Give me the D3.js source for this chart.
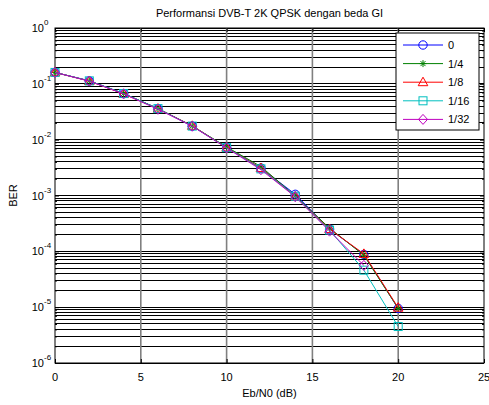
<!DOCTYPE html>
<html><head><meta charset="utf-8">
<script src="https://cdn.jsdelivr.net/npm/d3@7"></script>
<style>body{margin:0;background:#fff}svg{display:block}text{font-family:"Liberation Sans",Arial,sans-serif;fill:#000}</style>
</head><body><svg id="c" width="489" height="405"></svg>
<script>
const ebn0 = [0,2,4,6,8,10,12,14,16,18,20];
const seriesNames = ["0","1/4","1/8","1/16","1/32"];
const ber0   = [0.16,0.113,0.067,0.036,0.0175,0.0073,0.0031,0.00105,0.00025,8.8e-5,9.5e-6];
const ber1_4 = [0.16,0.113,0.067,0.036,0.0176,0.0074,0.0033,0.00098,0.00026,8.5e-5,9.5e-6];
const ber1_8 = [0.16,0.112,0.066,0.036,0.0177,0.0072,0.0031,0.00096,0.00025,9.0e-5,9.8e-6];
const ber1_16= [0.16,0.113,0.067,0.036,0.0175,0.0072,0.0030,0.00097,0.00024,4.6e-5,4.5e-6];
const ber1_32= [0.16,0.112,0.066,0.035,0.0174,0.0071,0.0029,0.00095,0.00023,5.6e-5,null];
const xTicks = [0,5,10,15,20,25];
const yExponents = [0,-1,-2,-3,-4,-5,-6];
const colors = ["#0000ff","#008000","#ff0000","#00bfbf","#bf00bf"];
const markers = ["circle","star","triangle","square","diamond"];
const allSeries = [ber0,ber1_4,ber1_8,ber1_16,ber1_32];

const svg = d3.select("#c");
const L=55,R=484,T=28,B=363;
const x = d3.scaleLinear().domain([0,25]).range([L,R]);
const y = d3.scaleLog().domain([1e-6,1]).range([B,T]);

// horizontal grid (major + minor)
const gridG = svg.append("g");
const hVals=[];
for(let e=-6;e<0;e++){for(let m=1;m<10;m++){hVals.push(m*Math.pow(10,e));}}
hVals.push(1);
gridG.selectAll("line.h").data(hVals).join("line")
  .attr("x1",L).attr("x2",R).attr("y1",d=>y(d)).attr("y2",d=>y(d))
  .attr("stroke","#000").attr("stroke-width",1).attr("shape-rendering","crispEdges");
gridG.selectAll("line.v").data(xTicks.filter(t=>t>0&&t<25)).join("line")
  .attr("x1",d=>x(d)).attr("x2",d=>x(d)).attr("y1",T).attr("y2",B)
  .attr("stroke","#808080").attr("stroke-width",1.6);

// axes with ticks inside
const axB = d3.axisBottom(x).tickValues(xTicks).tickSize(-4).tickFormat("");
const axT = d3.axisTop(x).tickValues(xTicks).tickSize(-4).tickFormat("");
svg.append("g").attr("transform",`translate(0,${B})`).call(axB);
svg.append("g").attr("transform",`translate(0,${T})`).call(axT);
const majY = yExponents.map(e=>Math.pow(10,e));
const minY = hVals.filter(v=>!majY.some(m=>Math.abs(m-v)/v<1e-9));
svg.append("g").attr("transform",`translate(${L},0)`).call(d3.axisLeft(y).tickValues(majY).tickSize(-4).tickFormat(""));
svg.append("g").attr("transform",`translate(${R},0)`).call(d3.axisRight(y).tickValues(majY).tickSize(-4).tickFormat(""));
svg.append("g").attr("transform",`translate(${L},0)`).call(d3.axisLeft(y).tickValues(minY).tickSize(-2).tickFormat(""));
svg.append("g").attr("transform",`translate(${R},0)`).call(d3.axisRight(y).tickValues(minY).tickSize(-2).tickFormat(""));
svg.selectAll(".domain").remove();
svg.selectAll(".tick line").attr("stroke","#000");
svg.append("rect").attr("x",L).attr("y",T).attr("width",R-L).attr("height",B-T)
  .attr("fill","none").attr("stroke","#000").attr("stroke-width",1);

// tick labels
svg.append("g").selectAll("text").data(xTicks).join("text")
  .attr("x",d=>x(d)).attr("y",B+18).attr("text-anchor","middle").attr("font-size",11).text(d=>d);
const yl = svg.append("g").selectAll("g").data(yExponents).join("g");
yl.append("text").attr("x",44).attr("y",d=>y(Math.pow(10,d))+4).attr("text-anchor","end").attr("font-size",11).text("10");
yl.append("text").attr("x",44).attr("y",d=>y(Math.pow(10,d))-3).attr("font-size",8).text(d=>d);

svg.append("text").attr("x",(L+R)/2).attr("y",17).attr("text-anchor","middle").attr("font-size",11)
  .text("Performansi DVB-T 2K QPSK dengan beda GI");
svg.append("text").attr("x",(L+R)/2).attr("y",397).attr("text-anchor","middle").attr("font-size",11).text("Eb/N0 (dB)");
svg.append("text").attr("transform",`translate(17,${(T+B)/2}) rotate(-90)`).attr("text-anchor","middle").attr("font-size",11).text("BER");

function drawMarker(g,type,cx,cy,col){
  if(type==="circle") g.append("circle").attr("cx",cx).attr("cy",cy).attr("r",4.2).attr("fill","none").attr("stroke",col);
  else if(type==="triangle") g.append("path").attr("d",`M${cx},${cy-5}L${cx+4.8},${cy+3.5}L${cx-4.8},${cy+3.5}Z`).attr("fill","none").attr("stroke",col);
  else if(type==="square") g.append("rect").attr("x",cx-4).attr("y",cy-4).attr("width",8).attr("height",8).attr("fill","none").attr("stroke",col);
  else if(type==="diamond") g.append("path").attr("d",`M${cx},${cy-5}L${cx+4.5},${cy}L${cx},${cy+5}L${cx-4.5},${cy}Z`).attr("fill","none").attr("stroke",col);
  else if(type==="star") g.append("path").attr("d",`M${cx-3.5},${cy}H${cx+3.5}M${cx},${cy-3.5}V${cy+3.5}M${cx-2.5},${cy-2.5}L${cx+2.5},${cy+2.5}M${cx-2.5},${cy+2.5}L${cx+2.5},${cy-2.5}`).attr("fill","none").attr("stroke",col);
}

const line = d3.line().defined(d=>d[1]!=null).x(d=>x(d[0])).y(d=>y(d[1]));
allSeries.forEach((s,i)=>{
  const pts = ebn0.map((e,j)=>[e,s[j]]);
  const g = svg.append("g");
  g.append("path").attr("d",line(pts)).attr("fill","none").attr("stroke",colors[i]).attr("stroke-width",1);
  pts.filter(d=>d[1]!=null).forEach(d=>drawMarker(g,markers[i],x(d[0]),y(d[1]),colors[i]));
});

// legend
const lg = svg.append("g");
lg.append("rect").attr("x",396).attr("y",33).attr("width",83).attr("height",97).attr("fill","#fff").attr("stroke","#000");
seriesNames.forEach((n,i)=>{
  const yy = 45 + i*18.6;
  lg.append("line").attr("x1",403).attr("x2",443).attr("y1",yy).attr("y2",yy).attr("stroke",colors[i]);
  drawMarker(lg,markers[i],423,yy,colors[i]);
  lg.append("text").attr("x",448).attr("y",yy+4).attr("font-size",11).text(n);
});
</script></body></html>
